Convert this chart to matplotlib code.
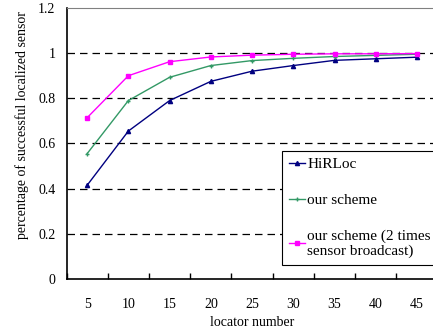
import matplotlib.pyplot as plt
import numpy as np

plt.rcParams['font.family'] = ['Liberation Serif', 'DejaVu Serif']

# data
locators = [5, 10, 15, 20, 25, 30, 35, 40, 45]
hirloc = [0.415, 0.655, 0.79, 0.875, 0.92, 0.945, 0.968, 0.975, 0.982]
our_scheme = [0.555, 0.79, 0.893, 0.945, 0.967, 0.977, 0.985, 0.99, 0.995]
our_scheme_2x = [0.714, 0.90, 0.962, 0.983, 0.991, 0.995, 0.997, 0.997, 0.998]
yticks = [0, 0.2, 0.4, 0.6, 0.8, 1.0, 1.2]
ytick_labels = ['0', '0.2', '0.4', '0.6', '0.8', '1', '1.2']

fig = plt.figure(figsize=(4.33, 3.31), dpi=100)
ax = fig.add_axes([0.1536, 0.157, 0.857, 0.819])

x = np.arange(len(locators))
ax.plot(x, hirloc, color='#000080', marker='^', markersize=3, lw=1, label='HiRLoc')
ax.plot(x, our_scheme, color='#339966', marker='+', markersize=3.5, mew=1, lw=1, label='our scheme')
ax.plot(x, our_scheme_2x, color='#FF00FF', marker='s', markersize=3.5, lw=1,
        label='our scheme (2 times\nsensor broadcast)')

for yv in yticks[1:-1]:
    ax.axhline(yv, color='black', lw=0.9, ls=(0, (6, 4)), zorder=0)

ax.set_xlim(-0.5, len(locators) - 0.5)
ax.set_ylim(0, 1.2)
ax.set_yticks(yticks)
ax.set_yticklabels(ytick_labels)
ax.set_xticks(x)
ax.set_xticklabels([str(v) for v in locators])
ax.set_xticks(np.arange(len(locators) + 1) - 0.5, minor=True)
ax.tick_params(axis='x', which='major', length=0, pad=14, labelsize=10)
ax.tick_params(axis='x', which='minor', direction='in', length=4, width=1)
ax.tick_params(axis='y', length=0, pad=8, labelsize=10)

ax.spines['left'].set_linewidth(1.2)
ax.spines['bottom'].set_linewidth(1.2)
ax.spines['top'].set_color('#808080')
ax.spines['right'].set_color('#808080')

ax.set_xlabel('locator number', fontsize=10, labelpad=3)
ax.set_ylabel('percentage of successful localized sensor', fontsize=10)
ax.yaxis.set_label_coords(-0.101, 0.568)

leg = ax.legend(loc='upper left', bbox_to_anchor=(0.651, 0.545), bbox_transform=fig.transFigure,
                fontsize=11, frameon=True, fancybox=False, edgecolor='black', framealpha=1,
                handlelength=1.05, handletextpad=0.15, labelspacing=1.45, borderpad=0.45,
                borderaxespad=0)
leg.get_frame().set_linewidth(0.8)
leg.get_texts()[2].set_linespacing(1.15)

fig.savefig('out.png', dpi=100)
